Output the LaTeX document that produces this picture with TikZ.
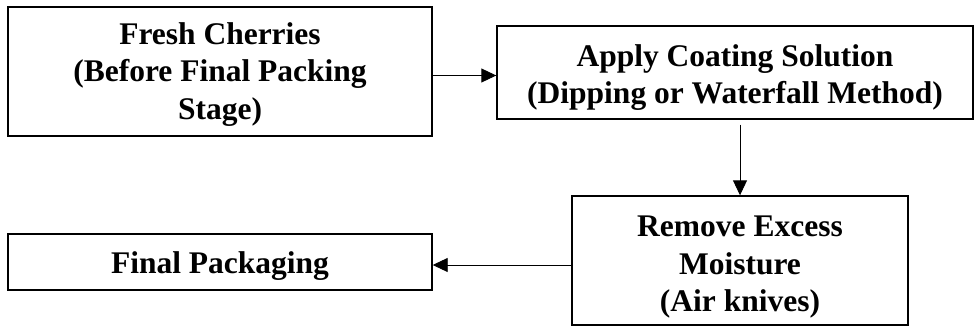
\documentclass[tikz,border=0pt]{standalone}
\usepackage{fontspec}
\setmainfont{Liberation Serif}
\usetikzlibrary{arrows.meta}

\tikzset{
  stage/.style={draw, line width=1.4pt, rectangle, inner sep=0pt},
  stagetext/.style={align=center, inner sep=0pt,
    font=\fontsize{31.5}{37.5}\selectfont\bfseries},
  flow/.style={line width=0.9pt, -{Triangle[length=15pt,width=14pt]}}
}

\begin{document}
\begin{tikzpicture}[x=1pt,y=1pt]
\useasboundingbox (0,0) rectangle (974,-326);

\node[stage, minimum width=424pt, minimum height=129pt,
  label={[stagetext, yshift=-3pt]center:Fresh Cherries\\(Before Final Packing\\Stage)}]
  (fresh) at (220,-71.5) {};
\node[stage, minimum width=476pt, minimum height=93pt,
  label={[stagetext, yshift=-5pt]center:Apply Coating Solution\\(Dipping or Waterfall Method)}]
  (coat) at (735,-72.5) {};
\node[stage, minimum width=336pt, minimum height=129pt,
  label={[stagetext, yshift=-7pt]center:Remove Excess\\Moisture\\(Air knives)}]
  (dry) at (740,-260.5) {};
\node[stage, minimum width=424pt, minimum height=56pt,
  label={[stagetext, yshift=-4pt]center:Final Packaging}]
  (pack) at (220,-262) {};

\draw[flow] ([yshift=-4pt]fresh.east) -- ([yshift=-4pt]fresh.east -| coat.west);
\draw[flow] ([yshift=-5pt]dry.north |- coat.south) -- (dry.north);
\draw[flow] ([yshift=-3pt]pack.east -| dry.west) -- ([yshift=-3pt]pack.east);
\end{tikzpicture}
\end{document}
